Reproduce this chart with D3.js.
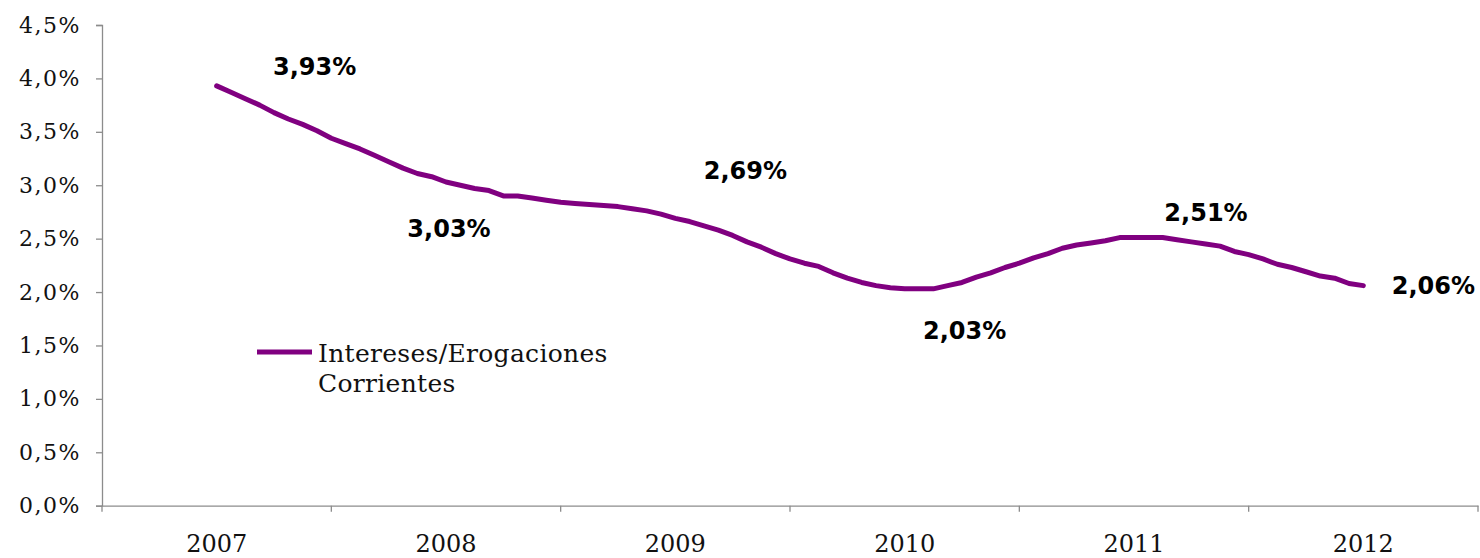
<!DOCTYPE html>
<html>
<head>
<meta charset="utf-8">
<script src="https://cdn.jsdelivr.net/npm/d3@7"></script>
<style>
  html, body { margin: 0; padding: 0; background: #ffffff; }
  svg { display: block; }
</style>
</head>
<body>
<svg id="chart" width="1480" height="558"></svg>
<script>
// ---- data ----
const years = ["2007", "2008", "2009", "2010", "2011", "2012"];
const yTicks = [0, 0.5, 1.0, 1.5, 2.0, 2.5, 3.0, 3.5, 4.0, 4.5];
const seriesName = ["Intereses/Erogaciones", "Corrientes"];
// periodic values (16 observations per year), first = 2007, last = 2012
const ratio = [
  3.93, 3.87, 3.81, 3.75, 3.68, 3.62, 3.57, 3.51, 3.44, 3.39, 3.34, 3.28, 3.22, 3.16, 3.11, 3.08,
  3.03, 3.00, 2.97, 2.95, 2.90, 2.90, 2.88, 2.86, 2.84, 2.83, 2.82, 2.81, 2.80, 2.78, 2.76, 2.73,
  2.69, 2.66, 2.62, 2.58, 2.53, 2.47, 2.42, 2.36, 2.31, 2.27, 2.24, 2.18, 2.13, 2.09, 2.06, 2.04,
  2.03, 2.03, 2.03, 2.06, 2.09, 2.14, 2.18, 2.23, 2.27, 2.32, 2.36, 2.41, 2.44, 2.46, 2.48, 2.51,
  2.51, 2.51, 2.51, 2.49, 2.47, 2.45, 2.43, 2.38, 2.35, 2.31, 2.26, 2.23, 2.19, 2.15, 2.13, 2.08,
  2.06
];
const labelIndex = [0, 16, 32, 48, 64, 80];

// ---- layout / style ----
const labelOffsets = [[98, -19], [3, 47], [70, -47], [60, 42], [72, -25], [70, 0]];
const plot = { left: 102, right: 1478, top: 25, bottom: 505.7 };
const purple = "#800080";
const axisColor = "#8c8c8c";
const serif = "'DejaVu Serif', serif";
const sansBold = "'DejaVu Sans', Verdana, sans-serif";

const loc = d3.formatLocale({ decimal: ",", thousands: ".", grouping: [3], currency: ["", ""] });
const fmtTick = loc.format(".1f");
const fmtLabel = loc.format(".2f");

const svg = d3.select("#chart");

const x = d3.scaleBand().domain(years).range([plot.left, plot.right]).padding(0);
const bw = x.bandwidth();
const xi = d3.scaleLinear()
  .domain([0, ratio.length - 1])
  .range([x(years[0]) + bw / 2, x(years[years.length - 1]) + bw / 2]);
const y = d3.scaleLinear().domain([0, 4.5]).range([plot.bottom, plot.top]);

// y axis
const yAxis = d3.axisLeft(y).tickValues(yTicks).tickSize(6).tickPadding(15)
  .tickFormat(d => fmtTick(d) + "%");
const gy = svg.append("g").attr("transform", `translate(${plot.left},0)`).call(yAxis);
gy.select(".domain").attr("stroke", axisColor).attr("stroke-width", 1.3);
gy.selectAll(".tick line").attr("stroke", axisColor).attr("stroke-width", 1.3);
gy.selectAll(".tick text")
  .attr("fill", "#111")
  .style("font-family", serif)
  .style("font-size", "22px")
  .style("letter-spacing", "1.5px");

// x axis: ticks on band boundaries
const xAxis = d3.axisBottom(x).tickSize(0).tickPadding(29);
const gx = svg.append("g").attr("transform", `translate(0,${plot.bottom})`).call(xAxis);
gx.select(".domain").attr("stroke", axisColor).attr("stroke-width", 1.3);
gx.selectAll(".tick text")
  .attr("fill", "#111")
  .style("font-family", serif)
  .style("font-size", "24px");
const boundaries = years.map(d => x(d)).concat([x(years[years.length - 1]) + bw]);
gx.selectAll("line.bound").data(boundaries).join("line")
  .attr("class", "bound")
  .attr("x1", d => d).attr("x2", d => d)
  .attr("y1", 0).attr("y2", 6)
  .attr("stroke", axisColor).attr("stroke-width", 1.3);

// line
const line = d3.line().x((d, i) => xi(i)).y(d => y(d));
svg.append("path")
  .datum(ratio)
  .attr("d", line)
  .attr("fill", "none")
  .attr("stroke", purple)
  .attr("stroke-width", 5)
  .attr("stroke-linejoin", "round")
  .attr("stroke-linecap", "round");

// data labels
svg.append("g").selectAll("text").data(labelIndex).join("text")
  .attr("x", (d, i) => xi(d) + labelOffsets[i][0])
  .attr("y", (d, i) => y(ratio[d]) + labelOffsets[i][1])
  .attr("text-anchor", "middle")
  .attr("dominant-baseline", "central")
  .attr("fill", "#000")
  .style("font-family", sansBold)
  .style("font-weight", "bold")
  .style("font-size", "24px")
  .text(d => fmtLabel(ratio[d]) + "%");

// legend
const lg = svg.append("g").attr("transform", "translate(257,352)");
lg.append("line").attr("x1", 0).attr("x2", 55).attr("y1", 0).attr("y2", 0)
  .attr("stroke", purple).attr("stroke-width", 5);
lg.append("text")
  .attr("x", 61).attr("y", 10)
  .attr("fill", "#111")
  .style("font-family", serif)
  .style("font-size", "25px")
  .style("letter-spacing", "0.3px")
  .selectAll("tspan").data(seriesName).join("tspan")
  .attr("x", 61)
  .attr("dy", (d, i) => i === 0 ? 0 : 30)
  .text(d => d);
</script>
</body>
</html>
